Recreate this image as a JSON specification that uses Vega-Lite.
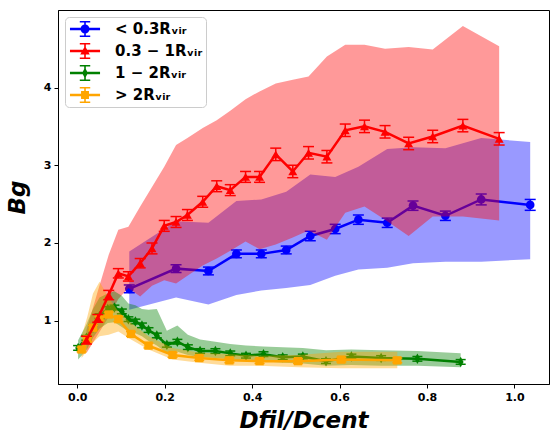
{
  "$schema": "https://vega.github.io/schema/vega-lite/v6.json",
  "width": 491,
  "height": 374,
  "autosize": {"type": "none"},
  "padding": {"left": 58, "top": 10, "right": 1, "bottom": 49},
  "background": "white",
  "datasets": {
    "d": [
      {"k":"b","s":"< 0.3Rᵥᵢᵣ","x":0.119,"y":1.41,"elo":1.36,"ehi":1.46,"blo":1.14,"bhi":1.89},
      {"k":"b","s":"< 0.3Rᵥᵢᵣ","x":0.226,"y":1.67,"elo":1.62,"ehi":1.72,"blo":1.30,"bhi":2.28},
      {"k":"b","s":"< 0.3Rᵥᵢᵣ","x":0.300,"y":1.64,"elo":1.59,"ehi":1.69,"blo":1.21,"bhi":2.26},
      {"k":"b","s":"< 0.3Rᵥᵢᵣ","x":0.364,"y":1.86,"elo":1.81,"ehi":1.91,"blo":1.33,"bhi":2.54},
      {"k":"b","s":"< 0.3Rᵥᵢᵣ","x":0.421,"y":1.86,"elo":1.81,"ehi":1.91,"blo":1.39,"bhi":2.56},
      {"k":"b","s":"< 0.3Rᵥᵢᵣ","x":0.478,"y":1.91,"elo":1.86,"ehi":1.96,"blo":1.42,"bhi":2.66},
      {"k":"b","s":"< 0.3Rᵥᵢᵣ","x":0.533,"y":2.09,"elo":2.03,"ehi":2.15,"blo":1.46,"bhi":2.88},
      {"k":"b","s":"< 0.3Rᵥᵢᵣ","x":0.590,"y":2.18,"elo":2.12,"ehi":2.24,"blo":1.58,"bhi":2.85},
      {"k":"b","s":"< 0.3Rᵥᵢᵣ","x":0.643,"y":2.30,"elo":2.24,"ehi":2.36,"blo":1.66,"bhi":2.98},
      {"k":"b","s":"< 0.3Rᵥᵢᵣ","x":0.709,"y":2.26,"elo":2.20,"ehi":2.32,"blo":1.68,"bhi":3.21},
      {"k":"b","s":"< 0.3Rᵥᵢᵣ","x":0.768,"y":2.48,"elo":2.42,"ehi":2.54,"blo":1.74,"bhi":3.23},
      {"k":"b","s":"< 0.3Rᵥᵢᵣ","x":0.842,"y":2.35,"elo":2.29,"ehi":2.41,"blo":1.76,"bhi":3.22},
      {"k":"b","s":"< 0.3Rᵥᵢᵣ","x":0.924,"y":2.56,"elo":2.49,"ehi":2.63,"blo":1.76,"bhi":3.35},
      {"k":"b","s":"< 0.3Rᵥᵢᵣ","x":1.036,"y":2.49,"elo":2.42,"ehi":2.56,"blo":1.79,"bhi":3.30},

      {"k":"r","s":"0.3 − 1Rᵥᵢᵣ","x":0.021,"y":0.75,"elo":0.70,"ehi":0.80,"blo":0.58,"bhi":0.88},
      {"k":"r","s":"0.3 − 1Rᵥᵢᵣ","x":0.047,"y":1.03,"elo":0.98,"ehi":1.08,"blo":0.82,"bhi":1.38},
      {"k":"r","s":"0.3 − 1Rᵥᵢᵣ","x":0.072,"y":1.33,"elo":1.27,"ehi":1.39,"blo":1.05,"bhi":1.85},
      {"k":"r","s":"0.3 − 1Rᵥᵢᵣ","x":0.094,"y":1.61,"elo":1.55,"ehi":1.67,"blo":1.28,"bhi":2.17},
      {"k":"r","s":"0.3 − 1Rᵥᵢᵣ","x":0.117,"y":1.57,"elo":1.51,"ehi":1.63,"blo":1.42,"bhi":2.21},
      {"k":"r","s":"0.3 − 1Rᵥᵢᵣ","x":0.144,"y":1.74,"elo":1.68,"ehi":1.80,"blo":1.31,"bhi":2.47},
      {"k":"r","s":"0.3 − 1Rᵥᵢᵣ","x":0.171,"y":1.93,"elo":1.86,"ehi":2.00,"blo":1.45,"bhi":2.72},
      {"k":"r","s":"0.3 − 1Rᵥᵢᵣ","x":0.199,"y":2.22,"elo":2.15,"ehi":2.29,"blo":1.52,"bhi":2.98},
      {"k":"r","s":"0.3 − 1Rᵥᵢᵣ","x":0.226,"y":2.27,"elo":2.20,"ehi":2.34,"blo":1.48,"bhi":3.26},
      {"k":"r","s":"0.3 − 1Rᵥᵢᵣ","x":0.252,"y":2.36,"elo":2.29,"ehi":2.43,"blo":1.58,"bhi":3.35},
      {"k":"r","s":"0.3 − 1Rᵥᵢᵣ","x":0.287,"y":2.53,"elo":2.46,"ehi":2.60,"blo":1.71,"bhi":3.48},
      {"k":"r","s":"0.3 − 1Rᵥᵢᵣ","x":0.319,"y":2.73,"elo":2.66,"ehi":2.80,"blo":1.80,"bhi":3.58},
      {"k":"r","s":"0.3 − 1Rᵥᵢᵣ","x":0.350,"y":2.68,"elo":2.61,"ehi":2.75,"blo":1.90,"bhi":3.70},
      {"k":"r","s":"0.3 − 1Rᵥᵢᵣ","x":0.385,"y":2.85,"elo":2.78,"ehi":2.92,"blo":2.02,"bhi":3.85},
      {"k":"r","s":"0.3 − 1Rᵥᵢᵣ","x":0.417,"y":2.85,"elo":2.78,"ehi":2.92,"blo":1.92,"bhi":3.95},
      {"k":"r","s":"0.3 − 1Rᵥᵢᵣ","x":0.454,"y":3.14,"elo":3.06,"ehi":3.22,"blo":1.98,"bhi":4.05},
      {"k":"r","s":"0.3 − 1Rᵥᵢᵣ","x":0.493,"y":2.92,"elo":2.84,"ehi":3.00,"blo":2.07,"bhi":4.10},
      {"k":"r","s":"0.3 − 1Rᵥᵢᵣ","x":0.529,"y":3.16,"elo":3.08,"ehi":3.24,"blo":2.16,"bhi":4.14},
      {"k":"r","s":"0.3 − 1Rᵥᵢᵣ","x":0.571,"y":3.11,"elo":3.03,"ehi":3.19,"blo":2.04,"bhi":4.40},
      {"k":"r","s":"0.3 − 1Rᵥᵢᵣ","x":0.613,"y":3.45,"elo":3.37,"ehi":3.53,"blo":2.39,"bhi":4.55},
      {"k":"r","s":"0.3 − 1Rᵥᵢᵣ","x":0.657,"y":3.50,"elo":3.42,"ehi":3.58,"blo":2.47,"bhi":4.55},
      {"k":"r","s":"0.3 − 1Rᵥᵢᵣ","x":0.704,"y":3.43,"elo":3.35,"ehi":3.51,"blo":2.30,"bhi":4.50},
      {"k":"r","s":"0.3 − 1Rᵥᵢᵣ","x":0.758,"y":3.28,"elo":3.20,"ehi":3.36,"blo":2.09,"bhi":4.52},
      {"k":"r","s":"0.3 − 1Rᵥᵢᵣ","x":0.813,"y":3.37,"elo":3.29,"ehi":3.45,"blo":2.34,"bhi":4.49},
      {"k":"r","s":"0.3 − 1Rᵥᵢᵣ","x":0.882,"y":3.51,"elo":3.43,"ehi":3.59,"blo":2.34,"bhi":4.79},
      {"k":"r","s":"0.3 − 1Rᵥᵢᵣ","x":0.965,"y":3.34,"elo":3.26,"ehi":3.42,"blo":2.29,"bhi":4.53},

      {"k":"g","s":"1 − 2Rᵥᵢᵣ","x":0.002,"y":0.65,"elo":0.62,"ehi":0.68,"blo":0.50,"bhi":0.75},
      {"k":"g","s":"1 − 2Rᵥᵢᵣ","x":0.021,"y":0.78,"elo":0.75,"ehi":0.81,"blo":0.62,"bhi":0.95},
      {"k":"g","s":"1 − 2Rᵥᵢᵣ","x":0.036,"y":0.91,"elo":0.88,"ehi":0.94,"blo":0.78,"bhi":1.15},
      {"k":"g","s":"1 − 2Rᵥᵢᵣ","x":0.051,"y":1.06,"elo":1.03,"ehi":1.09,"blo":0.90,"bhi":1.30},
      {"k":"g","s":"1 − 2Rᵥᵢᵣ","x":0.070,"y":1.15,"elo":1.12,"ehi":1.18,"blo":0.97,"bhi":1.35},
      {"k":"g","s":"1 − 2Rᵥᵢᵣ","x":0.085,"y":1.17,"elo":1.14,"ehi":1.20,"blo":0.98,"bhi":1.38},
      {"k":"g","s":"1 − 2Rᵥᵢᵣ","x":0.102,"y":1.12,"elo":1.09,"ehi":1.15,"blo":0.92,"bhi":1.32},
      {"k":"g","s":"1 − 2Rᵥᵢᵣ","x":0.117,"y":1.02,"elo":0.99,"ehi":1.05,"blo":0.86,"bhi":1.22},
      {"k":"g","s":"1 − 2Rᵥᵢᵣ","x":0.133,"y":0.99,"elo":0.96,"ehi":1.02,"blo":0.84,"bhi":1.20},
      {"k":"g","s":"1 − 2Rᵥᵢᵣ","x":0.148,"y":0.94,"elo":0.91,"ehi":0.97,"blo":0.80,"bhi":1.15},
      {"k":"g","s":"1 − 2Rᵥᵢᵣ","x":0.163,"y":0.88,"elo":0.85,"ehi":0.91,"blo":0.74,"bhi":1.14},
      {"k":"g","s":"1 − 2Rᵥᵢᵣ","x":0.182,"y":0.81,"elo":0.78,"ehi":0.84,"blo":0.68,"bhi":1.15},
      {"k":"g","s":"1 − 2Rᵥᵢᵣ","x":0.205,"y":0.69,"elo":0.66,"ehi":0.72,"blo":0.58,"bhi":0.87},
      {"k":"g","s":"1 − 2Rᵥᵢᵣ","x":0.229,"y":0.73,"elo":0.70,"ehi":0.76,"blo":0.60,"bhi":0.94},
      {"k":"g","s":"1 − 2Rᵥᵢᵣ","x":0.253,"y":0.66,"elo":0.63,"ehi":0.69,"blo":0.56,"bhi":0.82},
      {"k":"g","s":"1 − 2Rᵥᵢᵣ","x":0.281,"y":0.61,"elo":0.58,"ehi":0.64,"blo":0.53,"bhi":0.76},
      {"k":"g","s":"1 − 2Rᵥᵢᵣ","x":0.316,"y":0.61,"elo":0.58,"ehi":0.64,"blo":0.52,"bhi":0.73},
      {"k":"g","s":"1 − 2Rᵥᵢᵣ","x":0.350,"y":0.58,"elo":0.55,"ehi":0.61,"blo":0.50,"bhi":0.70},
      {"k":"g","s":"1 − 2Rᵥᵢᵣ","x":0.386,"y":0.55,"elo":0.52,"ehi":0.58,"blo":0.48,"bhi":0.68},
      {"k":"g","s":"1 − 2Rᵥᵢᵣ","x":0.426,"y":0.57,"elo":0.54,"ehi":0.60,"blo":0.48,"bhi":0.67},
      {"k":"g","s":"1 − 2Rᵥᵢᵣ","x":0.470,"y":0.53,"elo":0.50,"ehi":0.56,"blo":0.46,"bhi":0.66},
      {"k":"g","s":"1 − 2Rᵥᵢᵣ","x":0.516,"y":0.54,"elo":0.51,"ehi":0.57,"blo":0.45,"bhi":0.65},
      {"k":"g","s":"1 − 2Rᵥᵢᵣ","x":0.569,"y":0.48,"elo":0.45,"ehi":0.51,"blo":0.42,"bhi":0.62},
      {"k":"g","s":"1 − 2Rᵥᵢᵣ","x":0.627,"y":0.54,"elo":0.51,"ehi":0.57,"blo":0.43,"bhi":0.63},
      {"k":"g","s":"1 − 2Rᵥᵢᵣ","x":0.695,"y":0.52,"elo":0.49,"ehi":0.55,"blo":0.42,"bhi":0.62},
      {"k":"g","s":"1 − 2Rᵥᵢᵣ","x":0.778,"y":0.51,"elo":0.48,"ehi":0.54,"blo":0.42,"bhi":0.61},
      {"k":"g","s":"1 − 2Rᵥᵢᵣ","x":0.877,"y":0.47,"elo":0.44,"ehi":0.50,"blo":0.40,"bhi":0.58},

      {"k":"o","s":"> 2Rᵥᵢᵣ","x":0.010,"y":0.63,"elo":0.60,"ehi":0.66,"blo":0.52,"bhi":0.80},
      {"k":"o","s":"> 2Rᵥᵢᵣ","x":0.023,"y":0.76,"elo":0.73,"ehi":0.79,"blo":0.62,"bhi":1.05},
      {"k":"o","s":"> 2Rᵥᵢᵣ","x":0.036,"y":0.91,"elo":0.88,"ehi":0.94,"blo":0.72,"bhi":1.35},
      {"k":"o","s":"> 2Rᵥᵢᵣ","x":0.051,"y":1.03,"elo":1.00,"ehi":1.06,"blo":0.80,"bhi":1.50},
      {"k":"o","s":"> 2Rᵥᵢᵣ","x":0.072,"y":1.08,"elo":1.05,"ehi":1.11,"blo":0.82,"bhi":1.30},
      {"k":"o","s":"> 2Rᵥᵢᵣ","x":0.094,"y":1.02,"elo":0.99,"ehi":1.05,"blo":0.86,"bhi":1.12},
      {"k":"o","s":"> 2Rᵥᵢᵣ","x":0.123,"y":0.83,"elo":0.80,"ehi":0.86,"blo":0.76,"bhi":0.97},
      {"k":"o","s":"> 2Rᵥᵢᵣ","x":0.163,"y":0.68,"elo":0.65,"ehi":0.71,"blo":0.63,"bhi":0.80},
      {"k":"o","s":"> 2Rᵥᵢᵣ","x":0.218,"y":0.56,"elo":0.53,"ehi":0.59,"blo":0.50,"bhi":0.65},
      {"k":"o","s":"> 2Rᵥᵢᵣ","x":0.279,"y":0.52,"elo":0.49,"ehi":0.55,"blo":0.46,"bhi":0.59},
      {"k":"o","s":"> 2Rᵥᵢᵣ","x":0.348,"y":0.49,"elo":0.46,"ehi":0.52,"blo":0.42,"bhi":0.57},
      {"k":"o","s":"> 2Rᵥᵢᵣ","x":0.417,"y":0.48,"elo":0.45,"ehi":0.51,"blo":0.42,"bhi":0.55},
      {"k":"o","s":"> 2Rᵥᵢᵣ","x":0.505,"y":0.48,"elo":0.45,"ehi":0.51,"blo":0.40,"bhi":0.56},
      {"k":"o","s":"> 2Rᵥᵢᵣ","x":0.604,"y":0.50,"elo":0.47,"ehi":0.53,"blo":0.39,"bhi":0.60},
      {"k":"o","s":"> 2Rᵥᵢᵣ","x":0.732,"y":0.49,"elo":0.46,"ehi":0.52,"blo":0.39,"bhi":0.60}
    ]
  },
  "data": {"name": "d"},
  "encoding": {
    "x": {
      "field": "x", "type": "quantitative", "title": "Dfil/Dcent",
      "scale": {"domain": [-0.044, 1.079], "nice": false, "zero": false},
      "axis": {"values": [0, 0.2, 0.4, 0.6, 0.8, 1.0], "format": ".1f"}
    }
  },
  "layer": [
    {
      "transform": [{"filter": {"field": "k", "equal": "b"}}],
      "mark": {"type": "area", "color": "#0000ff", "opacity": 0.4, "clip": true},
      "encoding": {
        "y": {"field": "blo", "type": "quantitative", "title": "Bg", "scale": {"domain": [0.186, 4.997], "nice": false, "zero": false}, "axis": {"values": [1, 2, 3, 4], "format": "d"}},
        "y2": {"field": "bhi"}
      }
    },
    {
      "transform": [{"filter": {"field": "k", "equal": "b"}}],
      "layer": [
        {"mark": {"type": "rule", "color": "#0000ff", "strokeWidth": 1.5, "clip": true}, "encoding": {"y": {"field": "elo", "type": "quantitative", "title": "Bg"}, "y2": {"field": "ehi"}}},
        {"mark": {"type": "tick", "color": "#0000ff", "orient": "horizontal", "size": 11, "thickness": 1.5, "opacity": 1, "clip": true}, "encoding": {"y": {"field": "elo", "type": "quantitative", "title": "Bg"}}},
        {"mark": {"type": "tick", "color": "#0000ff", "orient": "horizontal", "size": 11, "thickness": 1.5, "opacity": 1, "clip": true}, "encoding": {"y": {"field": "ehi", "type": "quantitative", "title": "Bg"}}},
        {"mark": {"type": "line", "color": "#0000ff", "strokeWidth": 2.5, "clip": true}, "encoding": {"y": {"field": "y", "type": "quantitative", "title": "Bg"}}},
        {"mark": {"type": "point", "color": "#0000ff", "filled": true, "opacity": 1, "shape": "circle", "size": 75, "clip": true}, "encoding": {"y": {"field": "y", "type": "quantitative", "title": "Bg"}}}
      ]
    },
    {
      "transform": [{"filter": {"field": "k", "equal": "r"}}],
      "mark": {"type": "area", "color": "#ff0000", "opacity": 0.4, "clip": true},
      "encoding": {"y": {"field": "blo", "type": "quantitative", "title": "Bg"}, "y2": {"field": "bhi"}}
    },
    {
      "transform": [{"filter": {"field": "k", "equal": "g"}}],
      "mark": {"type": "area", "color": "#008000", "opacity": 0.4, "clip": true},
      "encoding": {"y": {"field": "blo", "type": "quantitative", "title": "Bg"}, "y2": {"field": "bhi"}}
    },
    {
      "transform": [{"filter": {"field": "k", "equal": "g"}}],
      "layer": [
        {"mark": {"type": "rule", "color": "#008000", "strokeWidth": 1.5, "clip": true}, "encoding": {"y": {"field": "elo", "type": "quantitative", "title": "Bg"}, "y2": {"field": "ehi"}}},
        {"mark": {"type": "tick", "color": "#008000", "orient": "horizontal", "size": 10, "thickness": 1.5, "opacity": 1, "clip": true}, "encoding": {"y": {"field": "elo", "type": "quantitative", "title": "Bg"}}},
        {"mark": {"type": "tick", "color": "#008000", "orient": "horizontal", "size": 10, "thickness": 1.5, "opacity": 1, "clip": true}, "encoding": {"y": {"field": "ehi", "type": "quantitative", "title": "Bg"}}},
        {"mark": {"type": "line", "color": "#008000", "strokeWidth": 2.5, "clip": true}, "encoding": {"y": {"field": "y", "type": "quantitative", "title": "Bg"}}},
        {"mark": {"type": "point", "color": "#008000", "filled": true, "opacity": 1, "shape": "M0,-1L0.55,0L0,1L-0.55,0Z", "size": 110, "clip": true}, "encoding": {"y": {"field": "y", "type": "quantitative", "title": "Bg"}}}
      ]
    },
    {
      "transform": [{"filter": {"field": "k", "equal": "o"}}],
      "mark": {"type": "area", "color": "#ffa500", "opacity": 0.4, "clip": true},
      "encoding": {"y": {"field": "blo", "type": "quantitative", "title": "Bg"}, "y2": {"field": "bhi"}}
    },
    {
      "transform": [{"filter": {"field": "k", "equal": "o"}}],
      "layer": [
        {"mark": {"type": "rule", "color": "#ffa500", "strokeWidth": 1.5, "clip": true}, "encoding": {"y": {"field": "elo", "type": "quantitative", "title": "Bg"}, "y2": {"field": "ehi"}}},
        {"mark": {"type": "tick", "color": "#ffa500", "orient": "horizontal", "size": 10, "thickness": 1.5, "opacity": 1, "clip": true}, "encoding": {"y": {"field": "elo", "type": "quantitative", "title": "Bg"}}},
        {"mark": {"type": "tick", "color": "#ffa500", "orient": "horizontal", "size": 10, "thickness": 1.5, "opacity": 1, "clip": true}, "encoding": {"y": {"field": "ehi", "type": "quantitative", "title": "Bg"}}},
        {"mark": {"type": "line", "color": "#ffa500", "strokeWidth": 2.5, "clip": true}, "encoding": {"y": {"field": "y", "type": "quantitative", "title": "Bg"}}},
        {"mark": {"type": "point", "color": "#ffa500", "filled": true, "opacity": 1, "shape": "square", "size": 70, "clip": true}, "encoding": {"y": {"field": "y", "type": "quantitative", "title": "Bg"}}}
      ]
    },
    {
      "transform": [{"filter": {"field": "k", "equal": "r"}}],
      "layer": [
        {"mark": {"type": "rule", "color": "#ff0000", "strokeWidth": 1.5, "clip": true}, "encoding": {"y": {"field": "elo", "type": "quantitative", "title": "Bg"}, "y2": {"field": "ehi"}}},
        {"mark": {"type": "tick", "color": "#ff0000", "orient": "horizontal", "size": 11, "thickness": 1.5, "opacity": 1, "clip": true}, "encoding": {"y": {"field": "elo", "type": "quantitative", "title": "Bg"}}},
        {"mark": {"type": "tick", "color": "#ff0000", "orient": "horizontal", "size": 11, "thickness": 1.5, "opacity": 1, "clip": true}, "encoding": {"y": {"field": "ehi", "type": "quantitative", "title": "Bg"}}},
        {"mark": {"type": "line", "color": "#ff0000", "strokeWidth": 2.5, "clip": true}, "encoding": {"y": {"field": "y", "type": "quantitative", "title": "Bg"}}},
        {"mark": {"type": "point", "color": "#ff0000", "filled": true, "opacity": 1, "shape": "triangle-up", "size": 80, "clip": true}, "encoding": {"y": {"field": "y", "type": "quantitative", "title": "Bg"}}}
      ]
    },
    {
      "description": "zero-size points that only carry the legend: each symbol is a line, an error bar and the series marker",
      "mark": {"type": "point", "filled": true, "opacity": 1, "size": 0, "clip": true},
      "encoding": {
        "y": {"field": "y", "type": "quantitative", "title": "Bg"},
        "color": {
          "field": "s", "type": "nominal",
          "scale": {
            "domain": ["< 0.3Rᵥᵢᵣ", "0.3 − 1Rᵥᵢᵣ", "1 − 2Rᵥᵢᵣ", "> 2Rᵥᵢᵣ"],
            "range": ["#0000ff", "#ff0000", "#008000", "#ffa500"]
          },
          "legend": {
            "title": null, "orient": "top-left", "offset": 7, "padding": 3,
            "symbolSize": 324, "symbolStrokeWidth": 0, "symbolOpacity": 1,
            "labelOffset": 29, "rowPadding": 4,
            "labelFont": "DejaVu Sans", "labelFontWeight": "bold", "labelFontSize": 15, "labelColor": "#000",
            "strokeColor": "#cccccc", "fillColor": "rgba(255,255,255,0.8)", "cornerRadius": 4
          }
        },
        "shape": {
          "field": "s", "type": "nominal",
          "scale": {
            "domain": ["< 0.3Rᵥᵢᵣ", "0.3 − 1Rᵥᵢᵣ", "1 − 2Rᵥᵢᵣ", "> 2Rᵥᵢᵣ"],
            "range": [
              "M-0.78,-0.14H2.56V0.14H-0.78Z M0.8,-0.9H0.98V0.9H0.8Z M0.31,-0.9H1.47V-0.73H0.31Z M0.31,0.73H1.47V0.9H0.31Z M1.39,0A0.5,0.5 0 1,1 0.39,0A0.5,0.5 0 1,1 1.39,0Z",
              "M-0.78,-0.14H2.56V0.14H-0.78Z M0.8,-0.9H0.98V0.9H0.8Z M0.31,-0.9H1.47V-0.73H0.31Z M0.31,0.73H1.47V0.9H0.31Z M0.89,-0.55L1.42,0.4L0.36,0.4Z",
              "M-0.78,-0.14H2.56V0.14H-0.78Z M0.8,-0.9H0.98V0.9H0.8Z M0.31,-0.9H1.47V-0.73H0.31Z M0.31,0.73H1.47V0.9H0.31Z M0.89,-0.62L1.21,0L0.89,0.62L0.57,0Z",
              "M-0.78,-0.14H2.56V0.14H-0.78Z M0.8,-0.9H0.98V0.9H0.8Z M0.31,-0.9H1.47V-0.73H0.31Z M0.31,0.73H1.47V0.9H0.31Z M0.45,-0.44H1.33V0.44H0.45Z"
            ]
          }
        }
      }
    }
  ],
  "config": {
    "view": {"stroke": "#000", "strokeWidth": 1},
    "axis": {
      "grid": false,
      "labelFont": "DejaVu Sans", "labelFontWeight": "bold", "labelFontSize": 11, "labelColor": "#000",
      "tickColor": "#000", "tickSize": 4, "domainColor": "#000", "labelPadding": 3,
      "titleFont": "DejaVu Sans", "titleFontWeight": "bold", "titleFontStyle": "italic", "titleFontSize": 23, "titleColor": "#000"
    },
    "axisX": {"titlePadding": 7},
    "axisY": {"titlePadding": 14}
  }
}
